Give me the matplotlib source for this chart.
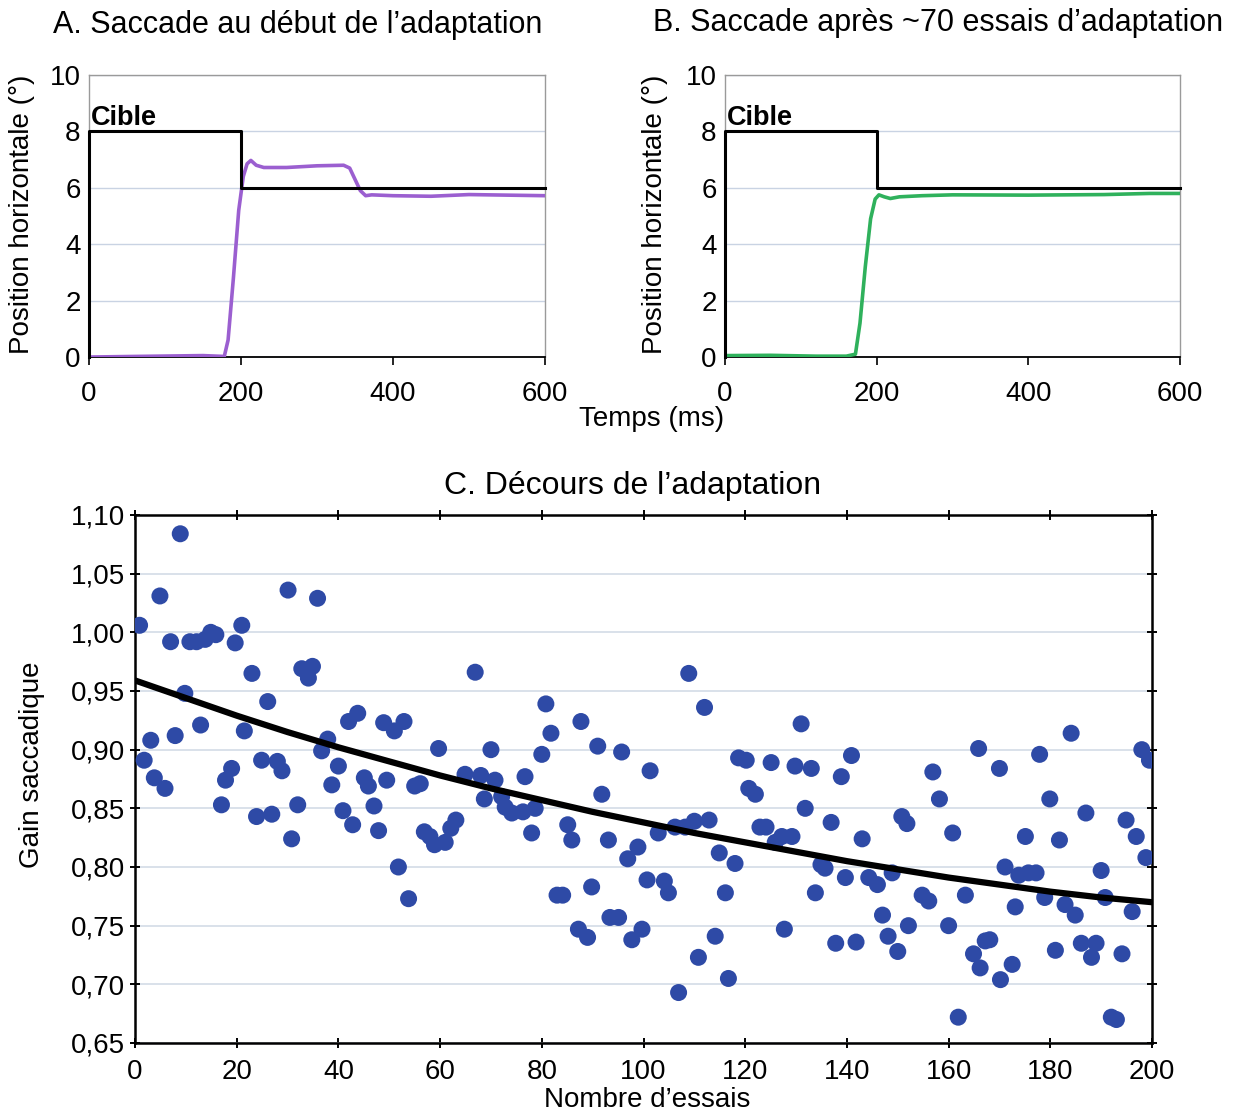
import matplotlib
matplotlib.use("Agg")
import matplotlib.pyplot as plt
from matplotlib.ticker import FuncFormatter

plt.rcParams['font.family'] = ['Liberation Sans', 'DejaVu Sans']

# Panel A / B: target step and eye traces (time in ms, position in deg)
target_t = [0, 0, 200, 200, 600]
target_pos = [0, 8, 8, 6, 6]

eye_a_t = [5, 60, 120, 150, 178, 183, 190, 197, 203, 208, 213, 220, 230, 260, 300, 335, 343, 350, 357, 364, 372, 400, 450, 500, 550, 600]
eye_a_pos = [0.0, 0.02, 0.04, 0.05, 0.02, 0.6, 2.8, 5.2, 6.4, 6.85, 6.97, 6.8, 6.72, 6.72, 6.78, 6.8, 6.7, 6.3, 5.9, 5.72, 5.75, 5.72, 5.7, 5.76, 5.74, 5.72]

eye_b_t = [0, 60, 120, 160, 172, 178, 185, 192, 198, 203, 210, 218, 230, 260, 300, 400, 500, 560, 600]
eye_b_pos = [0.05, 0.06, 0.03, 0.03, 0.1, 1.2, 3.2, 4.9, 5.6, 5.75, 5.68, 5.62, 5.68, 5.72, 5.75, 5.74, 5.76, 5.8, 5.8]

# Panel C: saccadic gain per trial
trials = [0.9, 1.8, 3.1, 3.8, 4.9, 5.9, 7.0, 7.9, 8.9, 9.8, 10.8, 12.1, 12.9, 13.8, 14.9, 15.9,
          17.0, 17.8, 19.0, 19.7, 21.0, 21.5, 23.0, 23.9, 24.9, 26.1, 26.9, 28.0, 28.9, 30.1,
          30.8, 32.0, 32.8, 34.1, 34.9, 35.9, 36.7, 37.9, 38.7, 40.0, 40.9, 42.0, 42.8, 43.8,
          45.1, 45.9, 47.0, 47.9, 48.9, 49.5,
          51.0, 51.8, 52.9, 53.8, 55.0, 56.1, 56.9, 58.0, 58.9, 59.7, 61.0, 62.1, 63.1, 64.9,
          66.9, 68.0, 68.7, 70.0, 70.8, 72.1, 72.8, 74.1, 76.3, 76.7, 78.0, 78.7, 80.0, 80.8,
          81.8, 83.0, 84.1, 85.1, 85.9, 87.2, 87.7, 89.0, 89.8, 91.0, 91.8, 93.1, 93.4, 95.1,
          95.7, 96.9, 97.7, 98.9, 99.7, 100.7, 101.3,
          102.9, 104.1, 104.9, 106.2, 106.9, 108.2, 108.9, 110.0, 110.8, 112.0, 112.9, 114.1,
          114.9, 116.1, 116.7, 118.0, 118.7, 120.2, 120.7, 122.0, 122.9, 124.1, 125.1, 125.9,
          127.2, 127.7, 129.2, 129.8, 131.0, 131.8, 133.0, 133.8, 134.9, 135.7, 136.9, 137.8,
          138.9, 139.7, 140.9, 141.8, 143.0, 144.3, 146.0, 147.0, 148.1, 148.9, 150.0, 150.8,
          151.8, 152.1,
          154.8, 156.1, 156.9, 158.2, 160.0, 160.8, 161.9, 163.3, 164.9, 165.9, 166.2, 167.2,
          168.1, 170.0, 170.2, 171.1, 172.5, 173.1, 173.8, 175.1, 175.7, 177.2, 177.9, 178.9,
          179.9, 181.0, 181.8, 182.9, 184.1, 184.9, 186.1, 187.0, 188.1, 189.0, 190.0, 190.8,
          192.0, 193.0, 194.1, 194.9, 196.1, 196.9, 198.0, 198.8, 199.5]
gains = [1.006, 0.891, 0.908, 0.876, 1.031, 0.867, 0.992, 0.912, 1.084, 0.948, 0.992, 0.992, 0.921, 0.994, 1.000, 0.998,
         0.853, 0.874, 0.884, 0.991, 1.006, 0.916, 0.965, 0.843, 0.891, 0.941, 0.845, 0.890, 0.882, 1.036,
         0.824, 0.853, 0.969, 0.961, 0.971, 1.029, 0.899, 0.909, 0.870, 0.886, 0.848, 0.924, 0.836, 0.931,
         0.876, 0.869, 0.852, 0.831, 0.923, 0.874,
         0.916, 0.800, 0.924, 0.773, 0.869, 0.871, 0.830, 0.826, 0.819, 0.901, 0.821, 0.833, 0.840, 0.879,
         0.966, 0.878, 0.858, 0.900, 0.874, 0.860, 0.851, 0.846, 0.847, 0.877, 0.829, 0.850, 0.896, 0.939,
         0.914, 0.776, 0.776, 0.836, 0.823, 0.747, 0.924, 0.740, 0.783, 0.903, 0.862, 0.823, 0.757, 0.757,
         0.898, 0.807, 0.738, 0.817, 0.747, 0.789, 0.882,
         0.829, 0.788, 0.778, 0.834, 0.693, 0.834, 0.965, 0.839, 0.723, 0.936, 0.840, 0.741,
         0.812, 0.778, 0.705, 0.803, 0.893, 0.891, 0.867, 0.862, 0.834, 0.834, 0.889, 0.821,
         0.826, 0.747, 0.826, 0.886, 0.922, 0.850, 0.884, 0.778, 0.802, 0.799, 0.838, 0.735,
         0.877, 0.791, 0.895, 0.736, 0.824, 0.791, 0.785, 0.759, 0.741, 0.795, 0.728, 0.843,
         0.837, 0.750,
         0.776, 0.771, 0.881, 0.858, 0.750, 0.829, 0.672, 0.776, 0.726, 0.901, 0.714, 0.737,
         0.738, 0.884, 0.704, 0.800, 0.717, 0.766, 0.793, 0.826, 0.795, 0.795, 0.896, 0.774,
         0.858, 0.729, 0.823, 0.768, 0.914, 0.759, 0.735, 0.846, 0.723, 0.735, 0.797, 0.774,
         0.672, 0.670, 0.726, 0.840, 0.762, 0.826, 0.900, 0.808, 0.891]

# trend line
trend_x = [0, 10, 20, 30, 40, 50, 60, 70, 80, 90, 100, 110, 120, 130, 140, 150, 160, 170, 180, 190, 200]
trend_y = [0.959, 0.944, 0.929, 0.915, 0.902, 0.890, 0.878, 0.867, 0.857, 0.847, 0.838, 0.829, 0.821,
           0.813, 0.805, 0.798, 0.791, 0.785, 0.779, 0.774, 0.770]

W, H = 1234, 1116
fig = plt.figure(figsize=(W / 100, H / 100), dpi=100)


def px_box(x0, y0, x1, y1):
    return [x0 / W, 1 - y1 / H, (x1 - x0) / W, (y1 - y0) / H]


def trace_panel(rect, eye_t, eye_pos, color):
    ax = fig.add_axes(rect)
    ax.set_xlim(0, 600)
    ax.set_ylim(0, 10)
    ax.set_xticks([0, 200, 400, 600])
    ax.set_yticks([0, 2, 4, 6, 8, 10])
    ax.grid(axis='y', color='#c9d3e3', lw=1)
    ax.set_axisbelow(True)
    for side in ['top', 'right', 'left']:
        ax.spines[side].set_color('#9a9a9a')
        ax.spines[side].set_linewidth(1)
    ax.spines['bottom'].set_linewidth(1.3)
    ax.tick_params(axis='x', labelsize=20, length=6, width=1.2, pad=11)
    ax.tick_params(axis='y', labelsize=20, length=0, pad=6)
    ax.plot(eye_t, eye_pos, color=color, lw=2.6, zorder=3)
    ax.plot(target_t, target_pos, color='black', lw=2.2, zorder=4, clip_on=False)
    ax.text(3, 8.0, 'Cible', fontsize=19.5, fontweight='bold', va='bottom', ha='left')
    return ax


ax_a = trace_panel(px_box(89, 75, 545, 357), eye_a_t, eye_a_pos, '#9b5fd0')
ax_b = trace_panel(px_box(725, 75, 1180, 357), eye_b_t, eye_b_pos, '#2fb15c')

fig.text(298 / W, 1 - 25 / H, "A. Saccade au début de l’adaptation", fontsize=22, ha='center', va='center')
fig.text(938 / W, 1 - 23 / H, "B. Saccade après ~70 essais d’adaptation", fontsize=22, ha='center', va='center')
fig.text(22 / W, 1 - 214 / H, "Position horizontale (°)", fontsize=20, rotation=90, ha='center', va='center')
fig.text(655 / W, 1 - 214 / H, "Position horizontale (°)", fontsize=20, rotation=90, ha='center', va='center')
fig.text(652 / W, 1 - 419 / H, "Temps (ms)", fontsize=20, ha='center', va='center')

# Panel C
ax_c = fig.add_axes(px_box(135, 515, 1152, 1043))
ax_c.set_xlim(0, 200)
ax_c.set_ylim(0.65, 1.10)
ax_c.set_xticks(range(0, 201, 20))
ax_c.set_yticks([0.65, 0.70, 0.75, 0.80, 0.85, 0.90, 0.95, 1.00, 1.05, 1.10])
ax_c.yaxis.set_major_formatter(FuncFormatter(lambda v, p: f"{v:.2f}".replace('.', ',')))
ax_c.grid(axis='y', color='#d3dbe6', lw=1.2)
ax_c.set_axisbelow(True)
for side in ax_c.spines.values():
    side.set_linewidth(1.8)
ax_c.tick_params(axis='both', labelsize=20, direction='inout', length=7, width=1.4,
                 top=True, right=True, labeltop=False, labelright=False)
ax_c.tick_params(axis='x', pad=8)
ax_c.scatter(trials, gains, s=150, color='#2e4aa6', edgecolors='none', zorder=3)
ax_c.plot(trend_x, trend_y, color='black', lw=4.5, zorder=4, solid_capstyle='round')

fig.text(633 / W, 1 - 486 / H, "C. Décours de l’adaptation", fontsize=23, ha='center', va='center')
fig.text(32 / W, 1 - 765 / H, "Gain saccadique", fontsize=20, rotation=90, ha='center', va='center')
fig.text(647 / W, 1 - 1100 / H, "Nombre d’essais", fontsize=20, ha='center', va='center')

fig.savefig('out.png', dpi=100)
